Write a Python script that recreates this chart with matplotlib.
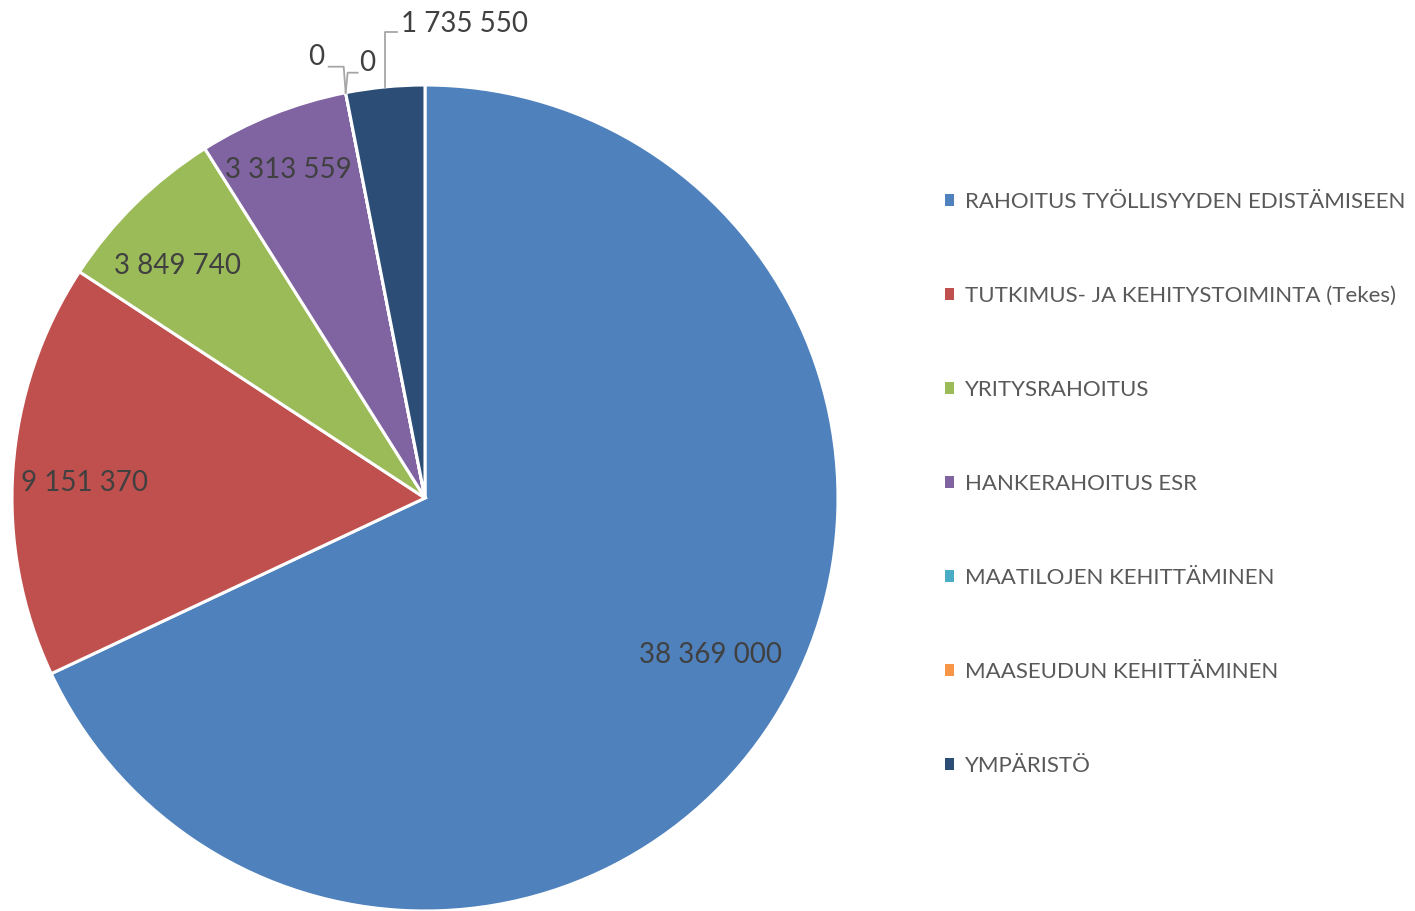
import numpy as np
import matplotlib.pyplot as plt
from matplotlib.patches import Patch

categories = ['RAHOITUS TYÖLLISYYDEN EDISTÄMISEEN',
              'TUTKIMUS- JA KEHITYSTOIMINTA (Tekes)',
              'YRITYSRAHOITUS',
              'HANKERAHOITUS ESR',
              'MAATILOJEN KEHITTÄMINEN',
              'MAASEUDUN KEHITTÄMINEN',
              'YMPÄRISTÖ']
values = [38369000, 9151370, 3849740, 3313559, 0, 0, 1735550]
colors = ['#4F81BD', '#C0504D', '#9BBB59', '#8064A2', '#4BACC6', '#F79646', '#2C4D75']

def fmt(v):
    return '{:,}'.format(v).replace(',', ' ')

plt.rcParams['font.family'] = ['Lato', 'DejaVu Sans']

W, H = 1415, 911
fig = plt.figure(figsize=(W / 100, H / 100), dpi=100)
ax = fig.add_axes([0, 0, 1, 1])

cx, cy, R = 425, H - 498, 413
wedges, _ = ax.pie(values, colors=colors, startangle=90, counterclock=False,
                   center=(cx, cy), radius=R, frame=True,
                   wedgeprops=dict(edgecolor='white', linewidth=2.2))
ax.set_xlim(0, W)
ax.set_ylim(0, H)
ax.set_aspect('equal')
ax.axis('off')

txt_col = '#404040'
# inside labels: (fraction of radius, angle nudge in degrees)
inside = {0: (0.79, 3.6), 1: (0.826, 1.5), 2: (0.822, 2.3), 3: (0.86, 1.0)}
for i, (d, da) in inside.items():
    w = wedges[i]
    a = np.deg2rad((w.theta1 + w.theta2) / 2 + da)
    ax.text(cx + d * R * np.cos(a), cy + d * R * np.sin(a), fmt(values[i]),
            ha='center', va='center', fontsize=20, color=txt_col)

# outside labels with leader lines (offsets relative to the wedge edge point)
lead_col = '#A6A6A6'
outside = [
    (4, (-2, -26), (-15, 0), (-21, 36), 'right'),
    (5, (2, -20), (10, 0), (13, 30), 'left'),
    (6, (0, -55), (12, 0), (16, 63), 'left'),
]
for i, up, side, toff, ha in outside:
    w = wedges[i]
    a = np.deg2rad((w.theta1 + w.theta2) / 2)
    x0, y0 = cx + R * np.cos(a), cy + R * np.sin(a)
    x1, y1 = x0 + up[0], y0 - up[1]
    x2, y2 = x1 + side[0], y1
    ax.plot([x0, x1, x2], [y0, y1, y2], color=lead_col, lw=1.3)
    ax.text(x0 + toff[0], y0 + toff[1], fmt(values[i]), ha=ha, va='center',
            fontsize=20, color=txt_col)

handles = [Patch(facecolor=c, edgecolor='none') for c in colors]
leg = fig.legend(handles, categories, loc='center left',
                 bbox_to_anchor=(945 / W, 1 - 484 / H), frameon=False,
                 fontsize=16, handlelength=0.42, handleheight=0.42,
                 handletextpad=0.5, labelspacing=3.33, borderaxespad=0,
                 borderpad=0)
for t in leg.get_texts():
    t.set_color('#595959')

fig.savefig('out.png', dpi=100)
